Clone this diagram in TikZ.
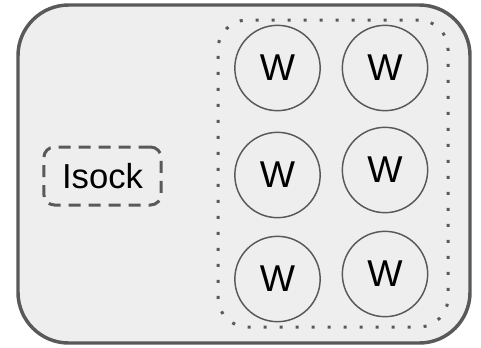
\documentclass[tikz,border=0pt]{standalone}
\usepackage{fontspec}
\setmainfont{Liberation Sans}
\definecolor{bgfill}{HTML}{EEEEEE}
\definecolor{edge}{HTML}{595959}
\begin{document}
\begin{tikzpicture}[x=0.75pt,y=-0.75pt,
  outerbox/.style={draw=edge,fill=bgfill,line width=2.6pt,rounded corners=38pt,minimum width=339pt,minimum height=253.5pt,inner sep=0pt},
  groupbox/.style={draw=edge,line width=2.25pt,dash pattern=on 2.25pt off 9.75pt,rounded corners=22pt,minimum width=172.5pt,minimum height=230.25pt,inner sep=0pt},
  lockbox/.style={draw=edge,line width=2.25pt,dash pattern=on 9pt off 6pt,rounded corners=8pt,minimum width=88pt,minimum height=43.5pt,inner sep=0pt,font=\fontsize{26}{30}\selectfont},
  worker/.style={circle,draw=edge,line width=1.1pt,minimum size=64pt,inner sep=0pt,font=\fontsize{28}{32}\selectfont}]
\useasboundingbox (0,0) rectangle (481,347);
\node[outerbox] (outer) at (244,174) {};
\node[groupbox] (group) at (333,173.5) {};
\node[lockbox] (lock) at (102.5,176) {Isock};
\node[worker] (w1) at (277.5,68) {W};
\node[worker] (w2) at (385,68) {W};
\node[worker] (w3) at (277.5,175) {W};
\node[worker] (w4) at (385,170) {W};
\node[worker] (w5) at (277.5,279) {W};
\node[worker] (w6) at (385,274) {W};
\end{tikzpicture}
\end{document}
